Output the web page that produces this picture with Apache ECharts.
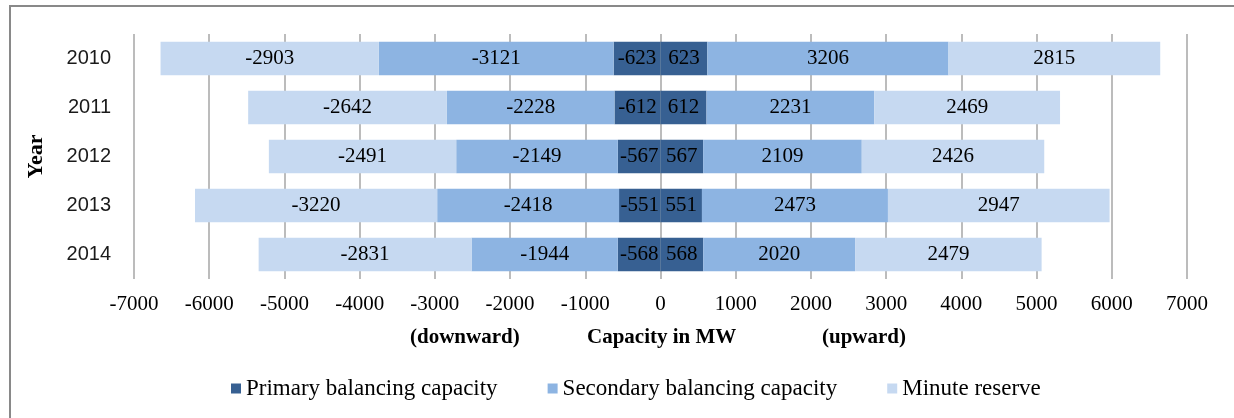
<!DOCTYPE html>
<html>
<head>
<meta charset="utf-8">
<script src="https://cdn.jsdelivr.net/npm/echarts@6/dist/echarts.min.js"></script>
<style>
  html, body { margin: 0; padding: 0; background: #fff; }
  #chart { width: 1234px; height: 418px; }
</style>
</head>
<body>
<div id="chart"></div>
<script>
// data
const years = ['2010', '2011', '2012', '2013', '2014'];
const xTicks = [-7000, 7000, 1000]; // min, max, interval

const primaryDown = [-623, -612, -567, -551, -568];
const secondaryDown = [-3121, -2228, -2149, -2418, -1944];
const minuteDown = [-2903, -2642, -2491, -3220, -2831];

const primaryUp = [623, 612, 567, 551, 568];
const secondaryUp = [3206, 2231, 2109, 2473, 2020];
const minuteUp = [2815, 2469, 2426, 2947, 2479];

const colors = {
  primary: '#376092',
  secondary: '#8db4e2',
  minute: '#c6d9f1',
};

const serif = '"Liberation Serif", "Times New Roman", serif';

const chart = echarts.init(document.getElementById('chart'));

// one bar series, both halves share the legend name
const bar = (name, data, color) => ({
  name,
  type: 'bar',
  stack: 'cap',
  data,
  barCategoryGap: '32%',
  itemStyle: { color },
  label: {
    show: true,
    position: 'inside',
    formatter: '{c}',
    color: '#000',
    fontFamily: serif,
    fontSize: 21,
  },
});

chart.setOption({
  animation: false,
  color: [colors.primary, colors.secondary, colors.minute],
  grid: {
    left: 134,
    right: 47,
    top: 34,
    bottom: 139,
  },
  legend: {
    left: 226,
    top: 372,
    itemWidth: 10,
    itemHeight: 10,
    itemGap: 50,
    icon: 'rect',
    data: ['Primary balancing capacity', 'Secondary balancing capacity', 'Minute reserve'],
    textStyle: {
      fontFamily: serif,
      fontSize: 23,
      color: '#000',
    },
  },
  // outer frame + axis caption
  graphic: [
    {
      type: 'rect',
      shape: { x: 10, y: 6, width: 1400, height: 600 },
      style: { fill: 'none', stroke: '#898989', lineWidth: 2 },
      silent: true,
    },
    {
      type: 'text',
      left: 410,
      top: 327,
      style: { text: '(downward)', font: 'bold 21px ' + serif, fill: '#000' },
    },
    {
      type: 'text',
      left: 587,
      top: 327,
      style: { text: 'Capacity in MW', font: 'bold 21px ' + serif, fill: '#000' },
    },
    {
      type: 'text',
      left: 822,
      top: 327,
      style: { text: '(upward)', font: 'bold 21px ' + serif, fill: '#000' },
    },
  ],
  xAxis: {
    type: 'value',
    min: xTicks[0],
    max: xTicks[1],
    interval: xTicks[2],
    axisLine: { show: false },
    axisTick: { show: false },
    axisLabel: {
      margin: 15,
      color: '#000',
      fontFamily: serif,
      fontSize: 21,
      formatter: (v) => String(v),
    },
    splitLine: {
      show: true,
      lineStyle: { color: '#a6a6a6', width: 1.5 },
    },
  },
  yAxis: {
    type: 'category',
    inverse: true,
    data: years,
    name: 'Year',
    nameLocation: 'middle',
    nameGap: 87,
    nameRotate: 90,
    nameTextStyle: {
      fontFamily: serif,
      fontWeight: 'bold',
      fontSize: 22,
      color: '#000',
    },
    axisLine: { show: false },
    axisTick: { show: false },
    axisLabel: {
      margin: 23,
      color: '#1a1a1a',
      fontFamily: '"Liberation Sans", Arial, sans-serif',
      fontSize: 20,
    },
  },
  series: [
    bar('Primary balancing capacity', primaryDown, colors.primary),
    bar('Primary balancing capacity', primaryUp, colors.primary),
    bar('Secondary balancing capacity', secondaryDown, colors.secondary),
    bar('Secondary balancing capacity', secondaryUp, colors.secondary),
    bar('Minute reserve', minuteDown, colors.minute),
    bar('Minute reserve', minuteUp, colors.minute),
  ],
});
</script>
</body>
</html>
